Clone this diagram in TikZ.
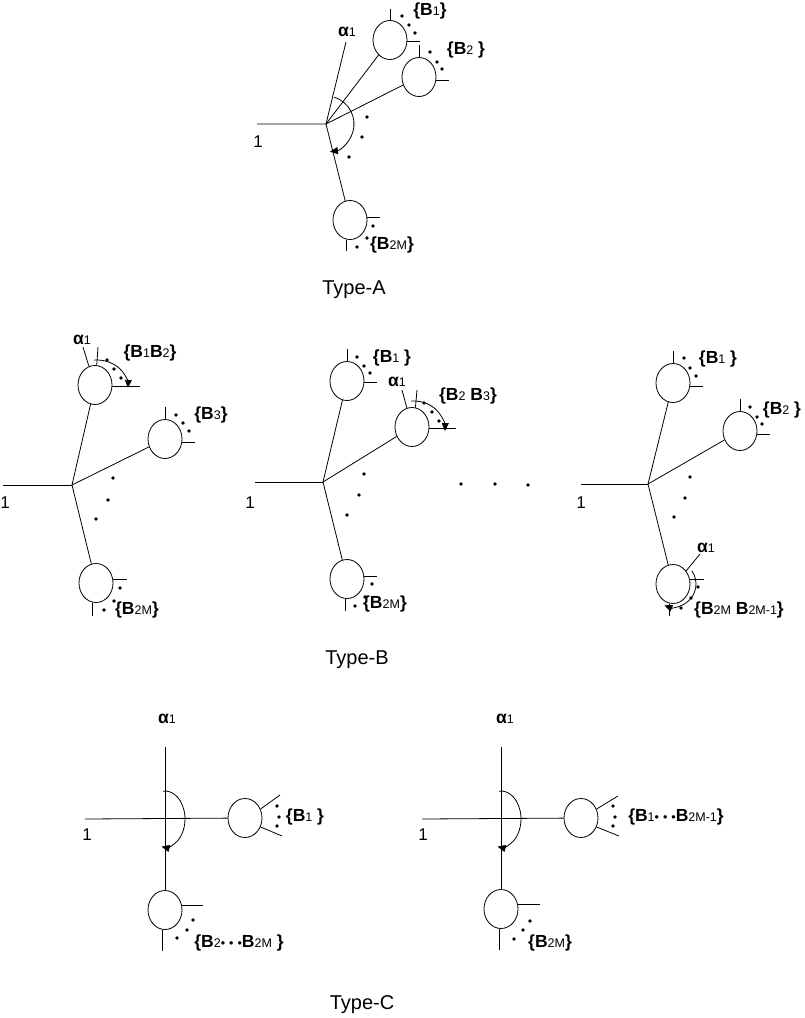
\documentclass[tikz,border=0pt]{standalone}
\usepackage{fontspec}
\setmainfont{Liberation Sans}
\usetikzlibrary{shapes.geometric,arrows.meta,calc}
\newcommand\sbs[1]{{\fontsize{12.5}{12.5}\selectfont\mdseries #1}}
\newcommand\bdots{\sbs{•\hspace{4pt}•\hspace{4pt}•}}
\begin{document}
\begin{tikzpicture}[x=1pt,y=1pt,
  ln/.style={line width=0.8pt},
  circ/.style={ellipse,draw,line width=0.8pt,inner sep=0pt,minimum width=34pt,minimum height=39pt},
  lab/.style={font=\bfseries\fontsize{17.5}{17.5}\selectfont,inner sep=0pt},
  num/.style={font=\fontsize{17}{17}\selectfont,inner sep=0pt},
  ttl/.style={font=\fontsize{20}{20}\selectfont,inner sep=0pt},
  arr/.style={line width=0.8pt,-{Triangle[length=8pt,width=7pt]}}]
\useasboundingbox (0,0) rectangle (804,-1018);
\newcommand\dts[1]{\foreach \p in {#1} \fill \p circle[radius=1.9];}

% ---------------- Type-A ----------------
\coordinate (vA) at (326,-124);
\coordinate (lA) at (257,-124);
\coordinate (aA) at (346,-42);
\node[circ] (A1) at (390,-40) {};
\node[circ] (A2) at (419,-77) {};
\node[circ] (A3) at (350,-220) {};
\draw[ln] (lA) -- (vA) -- (aA);
\draw[ln] (vA) -- (A1);
\draw[ln] (vA) -- (A2);
\draw[ln] (vA) -- (A3);
\draw[ln] (A1.north) -- ++(0,11);
\draw[ln] (A1.-3) -- ++(13,0);
\draw[ln] (A2.north) -- ++(0,12);
\draw[ln] (A2.-10) -- ++(13,0);
\draw[ln] (A3.10) -- ++(13,0);
\draw[ln] (A3.-100) -- ++(0,-11);
\draw[arr] (vA) ++(73:28) arc[start angle=73,end angle=-82,radius=28];
\dts{(367,-117),(362,-137),(349,-157)}
\dts{(402,-16),(409,-25),(415,-33)}
\dts{(430,-52),(437,-62),(442,-69)}
\dts{(373,-226),(367,-238),(357,-247)}
\node[lab] (LA1) at (430,-11) {\{B\sbs{1}\}};
\node[lab] (LA2) at (466,-50) {\{B\sbs{2} \}};
\node[lab] (LA3) at (392,-245) {\{B\sbs{2M}\}};
\node[lab] (alA) at (347,-32) {α\sbs{1}};
\node[num] (oneA) at (258,-142) {1};
\node[ttl] (tA) at (354,-290) {Type-A};

% ---------------- Type-B left ----------------
\coordinate (vB1) at (72,-485);
\coordinate (lB1) at (3,-485);
\node[circ] (B1a) at (95,-385) {};
\node[circ] (B1b) at (165,-439) {};
\node[circ] (B1c) at (96,-583) {};
\draw[ln] (lB1) -- (vB1);
\draw[ln] (vB1) -- (B1a);
\draw[ln] (vB1) -- (B1b);
\draw[ln] (vB1) -- (B1c);
\draw[ln] (B1a.108) -- (83,-347);
\draw[ln] (B1a.85) -- (98,-347);
\draw[ln] (B1a.-5) -- ++(28,0);
\draw[arr] (97,-387) ++(95:31 and 27) arc[start angle=95,end angle=-2,x radius=31,y radius=27];
\dts{(107,-360),(114,-369),(121,-378)}
\draw[ln] (B1b.north) -- ++(0,12);
\draw[ln] (B1b.-10) -- ++(13,0);
\dts{(176,-415),(183,-423),(189,-431)}
\draw[ln] (B1c.12) -- ++(14,0);
\draw[ln] (B1c.-100) -- ++(0,-13);
\dts{(120,-588),(114,-601),(104,-610)}
\dts{(113,-478),(108,-500),(96,-519)}
\node[lab] (alB1) at (82,-340) {α\sbs{1}};
\node[lab] (LB1a) at (150,-353) {\{B\sbs{1}B\sbs{2}\}};
\node[lab] (LB1b) at (211,-415) {\{B\sbs{3}\}};
\node[lab] (LB1c) at (137,-610) {\{B\sbs{2M}\}};
\node[num] (oneB1) at (5,-503) {1};

% ---------------- Type-B middle ----------------
\coordinate (vB2) at (323,-482);
\coordinate (lB2) at (255,-482);
\node[circ] (B2a) at (347,-381) {};
\node[circ] (B2b) at (412,-427) {};
\node[circ] (B2c) at (347,-579) {};
\draw[ln] (lB2) -- (vB2);
\draw[ln] (vB2) -- (B2a);
\draw[ln] (vB2) -- (B2b);
\draw[ln] (vB2) -- (B2c);
\draw[ln] (B2a.north) -- ++(0,12);
\draw[ln] (B2a.-5) -- ++(13,0);
\dts{(357,-357),(364,-366),(370,-373)}
\draw[ln] (B2b.105) -- (402,-390);
\draw[ln] (B2b.80) -- (417,-390);
\draw[ln] (B2b.-5) -- ++(27,0);
\draw[arr] (414,-430) ++(95:31 and 29) arc[start angle=95,end angle=-2,x radius=31,y radius=29];
\dts{(424,-403),(432,-412),(439,-421)}
\draw[ln] (B2c.10) -- ++(13,0);
\draw[ln] (B2c.-95) -- ++(0,-12);
\dts{(372,-584),(365,-597),(355,-606)}
\dts{(364,-474),(359,-495),(347,-515)}
\dts{(461,-484),(495,-484),(528,-485)}
\node[num] (oneB2) at (250,-503) {1};
\node[lab] (LB2a) at (392,-358) {\{B\sbs{1} \}};
\node[lab] (alB2) at (397,-382) {α\sbs{1}};
\node[lab] (LB2b) at (468,-396) {\{B\sbs{2} B\sbs{3}\}};
\node[lab] (LB2c) at (385,-604) {\{B\sbs{2M}\}};
\node[ttl] (tB) at (357,-660) {Type-B};

% ---------------- Type-B right ----------------
\coordinate (vB3) at (648,-484);
\coordinate (lB3) at (581,-484);
\node[circ] (B3a) at (673,-383) {};
\node[circ] (B3b) at (740,-431) {};
\node[circ] (B3c) at (673,-584) {};
\draw[ln] (lB3) -- (vB3);
\draw[ln] (vB3) -- (B3a);
\draw[ln] (vB3) -- (B3b);
\draw[ln] (vB3) -- (B3c);
\draw[ln] (B3a.north) -- ++(0,12);
\draw[ln] (B3a.-10) -- ++(13,0);
\dts{(684,-358),(690,-368),(696,-376)}
\draw[ln] (B3b.north) -- ++(0,12);
\draw[ln] (B3b.-10) -- ++(13,0);
\dts{(750,-407),(757,-417),(762,-424)}
\dts{(690,-477),(685,-498),(674,-517)}
\draw[ln] (B3c.45) -- (700,-554);
\draw[ln] (B3c.15) -- ++(14,0);
\draw[ln] (B3c.-100) -- ++(0,-12);
\draw[arr] (673,-584) ++(35:23) arc[start angle=35,end angle=-112,radius=23];
\dts{(698,-587),(691,-598),(681,-608)}
\node[num] (oneB3) at (581,-503) {1};
\node[lab] (LB3a) at (718,-359) {\{B\sbs{1} \}};
\node[lab] (LB3b) at (782,-410) {\{B\sbs{2} \}};
\node[lab] (alB3) at (706,-548) {α\sbs{1}};
\node[lab] (LB3c) at (739,-610) {\{B\sbs{2M} B\sbs{2M-1}\}};

% ---------------- Type-C left ----------------
\coordinate (vC1) at (165,-819);
\coordinate (tC1) at (165,-747);
\coordinate (lC1) at (85,-819);
\node[circ] (C1a) at (245,-818) {};
\node[circ] (C1b) at (165,-910) {};
\draw[ln] (tC1) -- (C1b);
\draw[ln] (lC1) -- (C1a);
\draw[ln] (C1a.30) -- (280,-795);
\draw[ln] (C1a.-30) -- (282,-836);
\dts{(277,-806),(279,-817),(277,-826)}
\draw[arr] (vC1) ++(96:20 and 28) arc[start angle=96,end angle=-100,x radius=20,y radius=28];
\draw[ln] (C1b.15) -- ++(21,0);
\draw[ln] (C1b.-98) -- ++(0,-21);
\dts{(193,-920),(187,-930),(177,-938)}
\node[num] (oneC1) at (87,-835) {1};
\node[lab] (alC1) at (167,-719) {α\sbs{1}};
\node[lab] (LC1a) at (305,-817) {\{B\sbs{1} \}};
\node[lab] (LC1b) at (239,-943) {\{B\sbs{2}\bdots B\sbs{2M} \}};

% ---------------- Type-C right ----------------
\coordinate (vC2) at (501,-819);
\coordinate (tC2) at (501,-747);
\coordinate (lC2) at (422,-819);
\node[circ] (C2a) at (581,-818) {};
\node[circ] (C2b) at (501,-909) {};
\draw[ln] (tC2) -- (C2b);
\draw[ln] (lC2) -- (C2a);
\draw[ln] (C2a.30) -- (618,-796);
\draw[ln] (C2a.-30) -- (619,-836);
\dts{(613,-806),(615,-817),(613,-826)}
\draw[arr] (vC2) ++(96:20 and 28) arc[start angle=96,end angle=-100,x radius=20,y radius=28];
\draw[ln] (C2b.15) -- ++(22,0);
\draw[ln] (C2b.-95) -- ++(0,-21);
\dts{(530,-921),(523,-930),(514,-939)}
\node[num] (oneC2) at (423,-835) {1};
\node[lab] (alC2) at (505,-719) {α\sbs{1}};
\node[lab] (LC2a) at (676,-817) {\{B\sbs{1}\bdots B\sbs{2M-1}\}};
\node[lab] (LC2b) at (550,-943) {\{B\sbs{2M}\}};
\node[ttl] (tC) at (362,-1005) {Type-C};
\end{tikzpicture}
\end{document}
